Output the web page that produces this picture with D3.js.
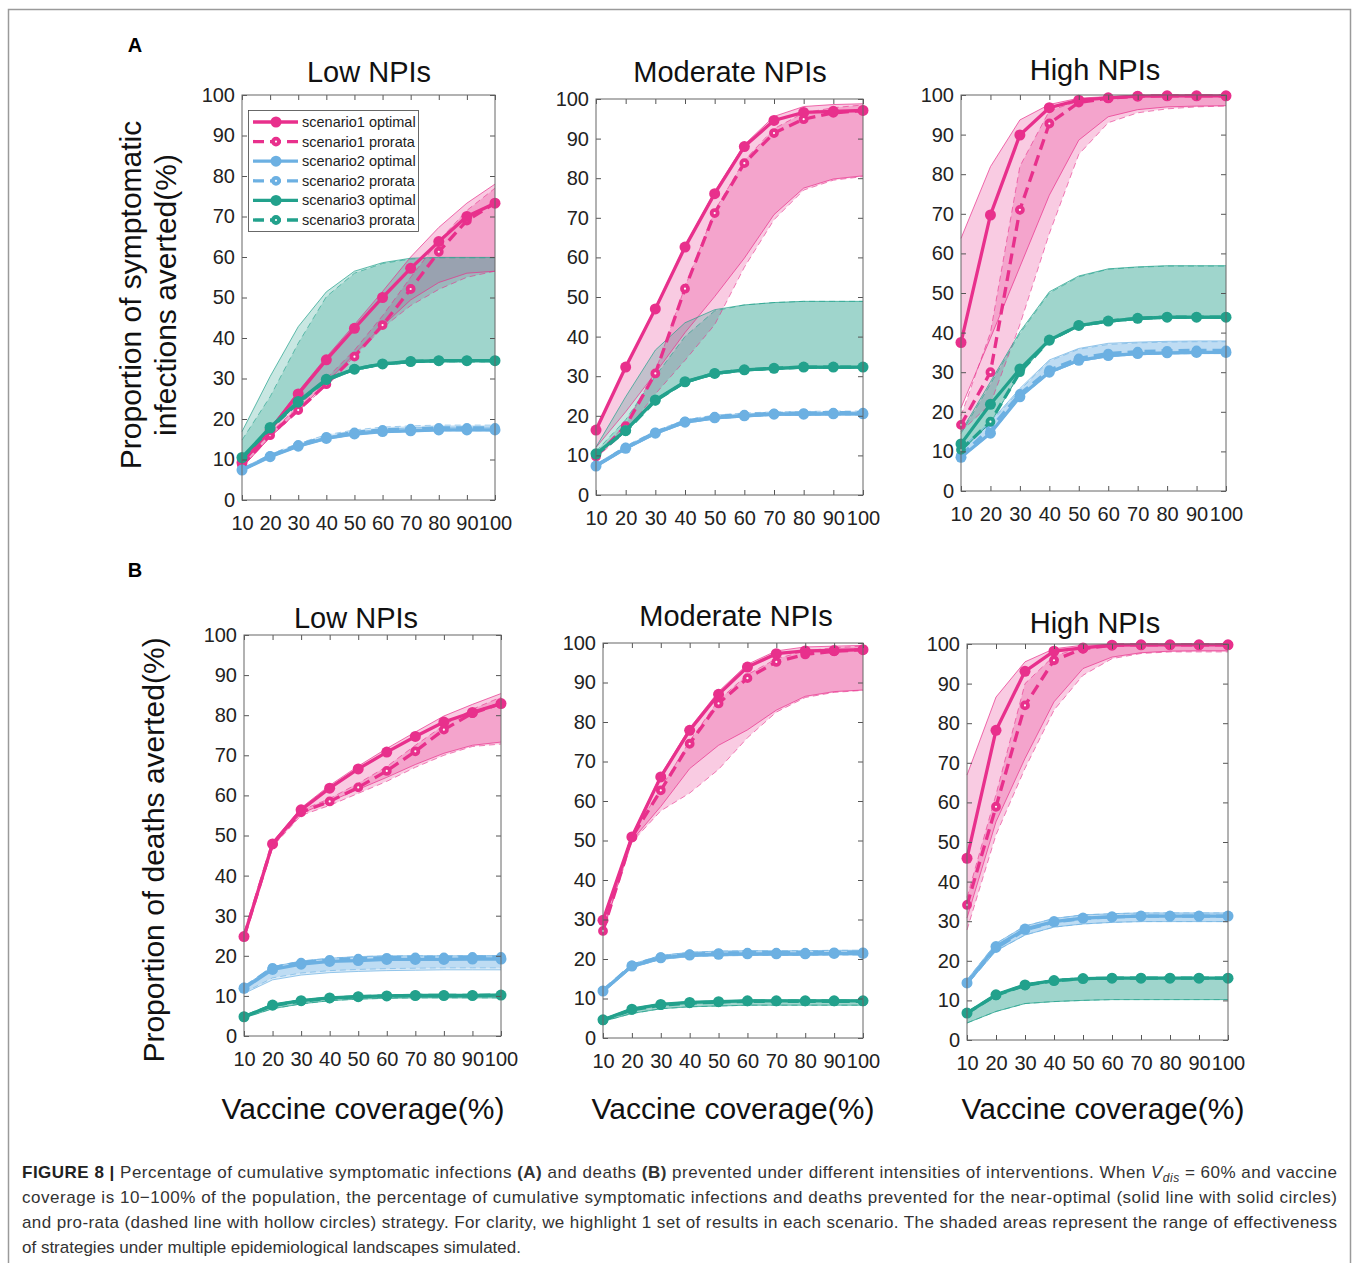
<!DOCTYPE html>
<html><head><meta charset="utf-8">
<script src="https://cdn.jsdelivr.net/npm/d3@7"></script>
<style>
body{margin:0;background:#fff}
svg{display:block}
text{font-family:"Liberation Sans",Arial,Helvetica,sans-serif}
</style>
</head><body>
<svg id="c" width="1360" height="1263"></svg>
<script>
// ---------- DATA ----------
const coverage = [10,20,30,40,50,60,70,80,90,100];
const yTickValues = [0,10,20,30,40,50,60,70,80,90,100];
const panelTitles = ["Low NPIs","Moderate NPIs","High NPIs"];
const legendLabels = ["scenario1 optimal","scenario1 prorata","scenario2 optimal","scenario2 prorata","scenario3 optimal","scenario3 prorata"];
// each scenario array rows: [optimal, prorata, optimal-range low, optimal-range high, prorata-range low, prorata-range high]

// (A) symptomatic infections averted, Low NPIs
const infLowS1 = [
 [9.2,17.3,26.2,34.6,42.4,50,57.2,63.8,70,73.3],
 [8.6,16,22.2,28.6,35.4,43.2,52.1,61.3,69,73.3],
 [8,15.5,22,29,36,43,49.4,53.7,56,56.5],
 [9.6,17.8,26.8,35.3,43.3,51.5,60,67.3,73.3,78],
 [8,15.5,21.8,28.3,35.5,42.5,48,52,55,56.5],
 [9,16.6,23,30,37,45.5,55,64,71.5,77]];
const infLowS2 = [
 [7.4,10.7,13.3,15.2,16.3,16.9,17.1,17.3,17.3,17.3],
 [7.5,10.9,13.6,15.6,16.7,17.3,17.6,17.8,17.8,17.8],
 [7.2,10.5,13.1,15,16.1,16.7,16.9,17.1,17.1,17.1],
 [7.6,11,13.6,15.6,16.8,17.5,17.8,18,18,18],
 [7.2,10.5,13.1,15,16.1,16.7,16.9,17.1,17.1,17.1],
 [7.8,11.3,14,16.1,17.3,18,18.3,18.5,18.5,18.5]];
const infLowS3 = [
 [10.5,17.9,24.3,29.8,32.3,33.6,34.2,34.4,34.4,34.4],
 [10.3,17.6,24,29.6,32.3,33.6,34.2,34.4,34.4,34.4],
 [10.2,17.4,23.8,29.3,32,33.3,33.9,34.1,34.1,34.1],
 [16.9,30.5,42.8,51.4,56.5,58.6,59.7,59.9,59.9,59.9],
 [10.2,17.4,23.8,29.3,32,33.3,33.9,34.1,34.1,34.1],
 [14.8,25.5,38.7,50.2,56,58.4,59.5,59.8,59.8,59.8]];

// (A) Moderate NPIs
const infModS1 = [
 [16.4,32.3,47,62.6,76.1,88,94.6,96.6,96.9,97.1],
 [9.7,17.4,30.7,52.1,71.2,83.8,91.4,94.9,96.5,97.1],
 [12,21,30.8,41,50.1,59.8,70.8,77.5,79.8,80.6],
 [16.6,32.6,47.4,63,76.6,88.5,95.6,98.1,98.6,98.8],
 [9.3,16,25.5,34,43,57.5,69.5,77,79.5,80.4],
 [10,17.8,31.2,52.6,71.8,84.5,92.5,96.5,97.8,98.5]];
const infModS2 = [
 [7.3,11.8,15.6,18.4,19.5,20,20.4,20.4,20.5,20.5],
 [7.4,12,15.8,18.6,19.8,20.3,20.6,20.7,20.8,20.8],
 [7,11.5,15.3,18.1,19.2,19.7,20.1,20.1,20.2,20.2],
 [7.7,12.2,16,18.8,19.9,20.4,20.8,20.8,20.9,20.9],
 [7,11.5,15.3,18.1,19.2,19.7,20.1,20.1,20.2,20.2],
 [7.8,12.4,16.2,19,20.2,20.7,21,21.1,21.2,21.2]];
const infModS3 = [
 [10.4,16.3,24,28.6,30.7,31.6,32,32.3,32.3,32.3],
 [10.2,16.1,23.8,28.5,30.7,31.6,32,32.3,32.3,32.3],
 [10.1,15.9,23.6,28.2,30.4,31.3,31.7,32,32,32],
 [12.1,24.8,36.6,43.5,46.8,48,48.6,48.9,48.9,48.9],
 [10.1,15.9,23.6,28.2,30.4,31.3,31.7,32,32,32],
 [11,19,30,40,46.5,48,48.6,48.9,48.9,48.9]];

// (A) High NPIs
const infHighS1 = [
 [37.5,69.7,89.9,96.8,98.7,99.3,99.7,99.8,99.8,99.8],
 [16.7,30,71,92.8,98.1,99.2,99.7,99.8,99.8,99.8],
 [21,38.6,56.6,74.7,88.6,94.5,96.3,97,97.2,97.3],
 [63.8,81.9,93.7,97.6,99.2,99.6,99.8,99.9,99.9,99.9],
 [15,22,42,65,85,93,95.5,96.5,97,97.2],
 [19,40,82,96,98.5,99.3,99.7,99.8,99.8,99.8]];
const infHighS2 = [
 [8.5,14.6,23.8,30,33,34.2,34.7,34.9,35,35],
 [9,15.8,24.5,30.5,33.5,34.7,35.2,35.4,35.5,35.5],
 [8.3,14.3,23.5,29.7,32.7,33.9,34.4,34.6,34.7,34.7],
 [10.8,17.5,25.9,33.1,36,37.3,37.6,37.8,37.9,37.9],
 [8.3,14.3,23.5,29.7,32.7,33.9,34.4,34.6,34.7,34.7],
 [10.5,17.2,25.5,32.8,35.8,37,37.4,37.6,37.7,37.7]];
const infHighS3 = [
 [11.9,21.9,30.8,38.1,41.8,42.9,43.6,43.9,43.9,43.9],
 [10.4,17.5,30,38,41.8,42.9,43.6,43.9,43.9,43.9],
 [10.1,17.2,29.7,37.8,41.5,42.6,43.3,43.6,43.6,43.6],
 [15,27.6,40.2,50.3,54.3,56.1,56.6,56.9,56.9,56.9],
 [10.1,17.2,29.7,37.8,41.5,42.6,43.3,43.6,43.6,43.6],
 [14.5,27,39.8,50,54.1,56,56.5,56.8,56.8,56.8]];

// (B) deaths averted, Low NPIs
const dthLowS1 = [
 [24.8,47.9,56.4,61.8,66.6,70.8,74.7,78.3,80.7,82.9],
 [24.8,47.9,55.8,58.5,62,66.1,71,76.4,80.5,82.9],
 [24.5,47.5,55.5,58.5,61.5,64.5,67.7,70.5,72.5,73.3],
 [25.2,48.4,56.9,62.5,67.3,71.7,75.8,79.8,82.7,85.4],
 [24.3,47.2,55,57.5,60.5,63.5,67,70,72.2,72.8],
 [25,48.2,56.3,59.2,63,67.2,72.5,77.5,81.5,84.5]];
const dthLowS2 = [
 [11.9,16.6,17.9,18.6,18.8,19.1,19.1,19.1,19.2,19.2],
 [12.1,17,18.3,19,19.3,19.5,19.6,19.6,19.7,19.7],
 [10.6,14,15.2,15.8,16.1,16.3,16.4,16.5,16.5,16.5],
 [12.3,17.3,18.7,19.4,19.8,20,20,20,20,20],
 [10.8,14.5,15.7,16.3,16.6,16.8,16.9,17,17,17],
 [12.3,17.3,18.7,19.4,19.8,20,20,20,20,20]];
const dthLowS3 = [
 [4.8,7.7,8.8,9.5,9.8,10,10.1,10.1,10.1,10.2],
 [4.8,7.6,8.7,9.4,9.8,10,10.1,10.1,10.1,10.2],
 [4.5,6.8,8,8.8,9.2,9.4,9.5,9.5,9.5,9.5],
 [5,7.9,9,9.7,10,10.2,10.3,10.3,10.3,10.4],
 [4.5,6.8,8,8.8,9.2,9.4,9.5,9.5,9.5,9.5],
 [5,7.9,9,9.7,10,10.2,10.3,10.3,10.3,10.4]];

// (B) Moderate NPIs
const dthModS1 = [
 [29.8,50.9,66.1,77.9,87,93.9,97.3,98,98.1,98.3],
 [27.1,50.8,62.7,74.5,84.7,91.1,95.2,97.1,97.9,98.3],
 [27,50,58.6,68.2,74.1,78,83,86.5,87.7,88.1],
 [30.2,51.3,66.6,78.5,87.7,94.6,98,99,99.2,99.4],
 [26.8,49.6,57.5,62,68,76,82.5,86.2,87.5,88],
 [27.5,51.1,63.2,75.2,85.5,92,96,98,98.8,99.2]];
const dthModS2 = [
 [11.9,18.2,20.3,21,21.2,21.3,21.3,21.3,21.4,21.4],
 [12,18.4,20.5,21.2,21.5,21.6,21.6,21.6,21.7,21.7],
 [11.5,17.8,19.9,20.6,20.8,20.9,20.9,20.9,21,21],
 [12.3,18.7,20.9,21.7,22,22.1,22.1,22.1,22.2,22.2],
 [11.5,17.8,19.9,20.6,20.8,20.9,20.9,20.9,21,21],
 [12.3,18.7,20.9,21.7,22,22.1,22.1,22.1,22.2,22.2]];
const dthModS3 = [
 [4.6,7.3,8.5,9,9.2,9.4,9.4,9.4,9.4,9.4],
 [4.5,7.1,8.3,8.8,9.1,9.3,9.3,9.3,9.3,9.3],
 [4.2,6.2,7.4,7.9,8.1,8.3,8.3,8.3,8.3,8.3],
 [4.8,7.5,8.7,9.2,9.4,9.6,9.6,9.6,9.6,9.6],
 [4.2,6.2,7.4,7.9,8.1,8.3,8.3,8.3,8.3,8.3],
 [4.8,7.5,8.7,9.2,9.4,9.6,9.6,9.6,9.6,9.6]];

// (B) High NPIs
const dthHighS1 = [
 [45.9,78.2,93.1,98.2,99,99.7,99.8,99.8,99.8,99.8],
 [34.1,58.9,84.5,95.9,98.8,99.7,99.8,99.8,99.8,99.8],
 [30.8,55.1,71.1,85.4,93.8,96.7,97.8,98.2,98.3,98.3],
 [66.9,86.6,95.5,98.8,99.7,99.9,99.9,99.9,99.9,99.9],
 [27.8,51.8,68.6,83.3,92.1,96.3,97.6,98,98,98],
 [36,62,90,97,99.2,99.8,99.8,99.8,99.8,99.8]];
const dthHighS2 = [
 [14.4,23.6,28,29.9,30.8,31.1,31.3,31.3,31.3,31.3],
 [14.4,23.2,27.8,29.8,30.7,31.1,31.3,31.3,31.3,31.3],
 [14,22.5,26.5,28.5,29.3,29.7,29.9,29.9,29.9,29.9],
 [15.2,24.4,28.8,30.7,31.6,31.9,32.1,32.1,32.1,32.1],
 [14,22.5,26.5,28.5,29.3,29.7,29.9,29.9,29.9,29.9],
 [15.2,24.4,28.8,30.7,31.6,31.9,32.1,32.1,32.1,32.1]];
const dthHighS3 = [
 [6.8,11.4,13.9,15,15.5,15.6,15.6,15.6,15.6,15.6],
 [6.8,11.3,13.8,15,15.5,15.6,15.6,15.6,15.6,15.6],
 [4.3,7.2,9.2,9.7,10,10.2,10.2,10.2,10.2,10.2],
 [7,11.6,14.1,15.2,15.7,15.8,15.8,15.8,15.8,15.8],
 [4.3,7.2,9.2,9.7,10,10.2,10.2,10.2,10.2,10.2],
 [7,11.6,14.1,15.2,15.7,15.8,15.8,15.8,15.8,15.8]];

// ---------- DRAW ----------
const colors = ["#e8308c","#6cb0e2","#22a18c"];
const svg = d3.select("#c");
svg.append("rect").attr("x",8.5).attr("y",9.5).attr("width",1342).attr("height",1300)
  .attr("fill","none").attr("stroke","#9a9a9a").attr("stroke-width",1.5);

const panels = [
 {data:[infLowS1,infLowS2,infLowS3], t:0, x0:242,x1:495,yb:500,yt:95, tx:369,ty:82, legend:true},
 {data:[infModS1,infModS2,infModS3], t:1, x0:596,x1:863,yb:495,yt:99, tx:730,ty:82},
 {data:[infHighS1,infHighS2,infHighS3], t:2, x0:961,x1:1226,yb:491,yt:95, tx:1095,ty:80},
 {data:[dthLowS1,dthLowS2,dthLowS3], t:0, x0:244,x1:501,yb:1036,yt:635, tx:356,ty:628},
 {data:[dthModS1,dthModS2,dthModS3], t:1, x0:603,x1:863,yb:1038,yt:643, tx:736,ty:626},
 {data:[dthHighS1,dthHighS2,dthHighS3], t:2, x0:967,x1:1228,yb:1040,yt:644, tx:1095,ty:633}
];

const LW = 3.3, RO = 5.5, RP = 3, SWP = 3.8;

panels.forEach(p=>{
  const x = d3.scaleLinear().domain([10,100]).range([p.x0,p.x1]);
  const y = d3.scaleLinear().domain([0,100]).range([p.yb,p.yt]);
  const g = svg.append("g");
  const line = d3.line().x((d,i)=>x(coverage[i])).y(d=>y(d));
  const area = (lo,hi)=>d3.area().x((d,i)=>x(coverage[i])).y0((d,i)=>y(lo[i])).y1((d,i)=>y(hi[i]))(coverage);

  // bands
  p.data.forEach((s,si)=>{
    g.append("path").attr("d",area(s[2],s[3])).attr("fill",colors[si]).attr("fill-opacity",0.25);
    g.append("path").attr("d",area(s[4],s[5])).attr("fill",colors[si]).attr("fill-opacity",0.25);
  });
  // band edges
  p.data.forEach((s,si)=>{
    [2,3].forEach(k=>g.append("path").datum(s[k]).attr("d",line).attr("fill","none")
      .attr("stroke",colors[si]).attr("stroke-opacity",0.7).attr("stroke-width",1));
    [4,5].forEach(k=>g.append("path").datum(s[k]).attr("d",line).attr("fill","none")
      .attr("stroke",colors[si]).attr("stroke-opacity",0.6).attr("stroke-width",1).attr("stroke-dasharray","6,4"));
  });
  // main lines
  p.data.forEach((s,si)=>{
    g.append("path").datum(s[1]).attr("d",line).attr("fill","none")
      .attr("stroke",colors[si]).attr("stroke-width",LW).attr("stroke-dasharray","11,6");
    g.selectAll(null).data(s[1]).join("circle")
      .attr("cx",(d,i)=>x(coverage[i])).attr("cy",d=>y(d)).attr("r",RP)
      .attr("fill","#fff").attr("stroke",colors[si]).attr("stroke-width",SWP);
    g.append("path").datum(s[0]).attr("d",line).attr("fill","none")
      .attr("stroke",colors[si]).attr("stroke-width",LW);
    g.selectAll(null).data(s[0]).join("circle")
      .attr("cx",(d,i)=>x(coverage[i])).attr("cy",d=>y(d)).attr("r",RO)
      .attr("fill",colors[si]);
  });

  // axes
  const style = a=>{
    a.selectAll("text").attr("font-size",20).attr("fill","#222").attr("font-family","Liberation Sans, Arial, sans-serif");
    a.selectAll("line").attr("stroke","#555");
    a.select(".domain").remove();
  };
  svg.append("g").attr("transform",`translate(0,${p.yb})`)
    .call(d3.axisBottom(x).tickValues(coverage).tickSize(-5).tickPadding(16)).call(style);
  svg.append("g").attr("transform",`translate(0,${p.yt})`)
    .call(d3.axisTop(x).tickValues(coverage).tickSize(-5).tickFormat("")).call(style);
  svg.append("g").attr("transform",`translate(${p.x0},0)`)
    .call(d3.axisLeft(y).tickValues(yTickValues).tickSize(-5).tickPadding(7)).call(style);
  svg.append("g").attr("transform",`translate(${p.x1},0)`)
    .call(d3.axisRight(y).tickValues(yTickValues).tickSize(-5).tickFormat("")).call(style);
  svg.append("rect").attr("x",p.x0).attr("y",p.yt).attr("width",p.x1-p.x0).attr("height",p.yb-p.yt)
    .attr("fill","none").attr("stroke","#666").attr("stroke-width",1);

  svg.append("text").attr("x",p.tx).attr("y",p.ty).attr("text-anchor","middle")
    .attr("font-size",29).attr("fill","#111").text(panelTitles[p.t]);

  if(p.legend){
    const lg = svg.append("g");
    lg.append("rect").attr("x",248.5).attr("y",110.5).attr("width",170).attr("height",121)
      .attr("fill","#fff").attr("stroke","#444").attr("stroke-width",0.8);
    legendLabels.forEach((lab,i)=>{
      const yy = 122 + i*19.6, c = colors[Math.floor(i/2)], dashed = i%2===1;
      lg.append("line").attr("x1",253).attr("x2",298).attr("y1",yy).attr("y2",yy)
        .attr("stroke",c).attr("stroke-width",LW).attr("stroke-dasharray",dashed?"11,6":null);
      if(dashed) lg.append("circle").attr("cx",276).attr("cy",yy).attr("r",RP).attr("fill","#fff").attr("stroke",c).attr("stroke-width",SWP);
      else lg.append("circle").attr("cx",276).attr("cy",yy).attr("r",RO).attr("fill",c);
      lg.append("text").attr("x",302).attr("y",yy).attr("dy","0.35em").attr("font-size",14.5).attr("fill","#222").text(lab);
    });
  }
});

// panel letters
svg.append("text").attr("x",135).attr("y",52).attr("text-anchor","middle").attr("font-size",20).attr("font-weight","bold").text("A");
svg.append("text").attr("x",135).attr("y",577).attr("text-anchor","middle").attr("font-size",20).attr("font-weight","bold").text("B");

// y labels
const ylab = (x,yc,t)=>svg.append("text").attr("transform",`translate(${x},${yc}) rotate(-90)`)
  .attr("text-anchor","middle").attr("font-size",30).attr("fill","#111").text(t);
ylab(141,295,"Proportion of symptomatic");
ylab(176,295,"infections averted(%)");
ylab(164,850,"Proportion of deaths averted(%)");

// x labels
[363,733,1103].forEach(cx=>svg.append("text").attr("x",cx).attr("y",1119).attr("text-anchor","middle")
  .attr("font-size",30).attr("fill","#111").text("Vaccine coverage(%)"));

// caption
const cap = svg.append("g").attr("font-size",17).attr("fill","#333");
const l1 = cap.append("text").attr("x",22).attr("y",1178).attr("textLength",1315).attr("lengthAdjust","spacing");
l1.append("tspan").attr("font-weight","bold").attr("fill","#222").text("FIGURE 8 |");
l1.append("tspan").text(" Percentage of cumulative symptomatic infections ");
l1.append("tspan").attr("font-weight","bold").text("(A)");
l1.append("tspan").text(" and deaths ");
l1.append("tspan").attr("font-weight","bold").text("(B)");
l1.append("tspan").text(" prevented under different intensities of interventions. When ");
l1.append("tspan").attr("font-style","italic").text("V");
l1.append("tspan").attr("font-style","italic").attr("font-size",12).attr("dy",4).text("dis");
l1.append("tspan").attr("dy",-4).text(" = 60% and vaccine");
cap.append("text").attr("x",22).attr("y",1203).attr("textLength",1315).attr("lengthAdjust","spacing")
  .text("coverage is 10\u2212100% of the population, the percentage of cumulative symptomatic infections and deaths prevented for the near-optimal (solid line with solid circles)");
cap.append("text").attr("x",22).attr("y",1228).attr("textLength",1315).attr("lengthAdjust","spacing")
  .text("and pro-rata (dashed line with hollow circles) strategy. For clarity, we highlight 1 set of results in each scenario. The shaded areas represent the range of effectiveness");
cap.append("text").attr("x",22).attr("y",1253)
  .text("of strategies under multiple epidemiological landscapes simulated.");
</script>
</body></html>
